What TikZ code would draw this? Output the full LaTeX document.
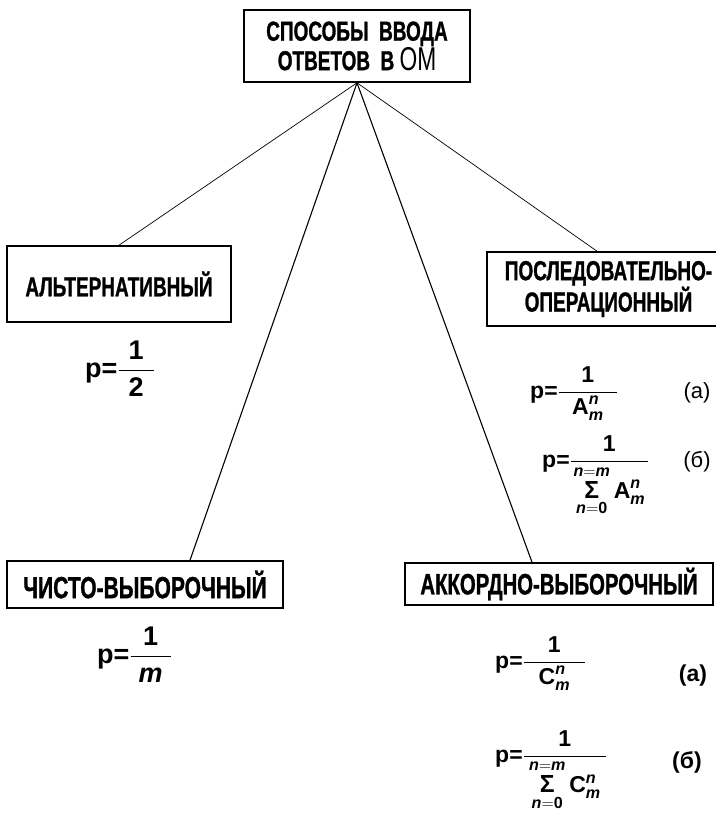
\RequirePackage{fix-cm}
\documentclass[tikz,border=0pt]{standalone}
\usepackage{amsmath}
\usepackage{graphicx}
\usepackage{fontspec}
\setmainfont{Liberation Sans}
\newfontfamily\lblfont[FakeStretch=0.69, BoldFeatures={FakeBold=1}]{Liberation Sans}
\usetikzlibrary{calc}
\newcommand\fb[1]{\textbf{#1}}
\newcommand\fv[1]{\textbf{\textit{#1}}}
\newcommand\bigsig{\mathop{\mbox{\resizebox{!}{17pt}{\bfseries Σ}}}\limits}
\begin{document}
\begin{tikzpicture}[x=1pt,y=-1pt,
  box/.style={draw, line width=1.6pt, inner sep=0pt, align=center},
  conn/.style={line width=1.1pt},
  thinconn/.style={line width=0.7pt},
  formula/.style={anchor=base west, inner sep=0pt},
  tag/.style={inner sep=0pt, font=\fontsize{22}{24}\selectfont}
]
\useasboundingbox (0,0) rectangle (715,814);

% boxes
\node[box, minimum width=226pt, minimum height=72pt,
      font=\lblfont\bfseries\fontsize{27.5}{26}\selectfont] (top) at (357,46)
      {СПОСОБЫ\ \ ВВОДА\\ОТВЕТОВ\ \ В\ {\mdseries\fontsize{33}{26}\selectfont ОМ}};
\node[box, minimum width=224pt, minimum height=76pt,
      font=\lblfont\bfseries\fontsize{27.5}{26}\selectfont] (alt) at (119,284)
      {АЛЬТЕРНАТИВНЫЙ};
\node[box, minimum width=243pt, minimum height=74pt,
      font=\lblfont\bfseries\fontsize{27.5}{30}\selectfont] (posl) at (608.5,289)
      {ПОСЛЕДОВАТЕЛЬНО-\\ОПЕРАЦИОННЫЙ};
\node[box, minimum width=276pt, minimum height=47pt,
      font=\lblfont\bfseries\fontsize{30.5}{30}\selectfont] (chisto) at (145,584.5)
      {ЧИСТО-ВЫБОРОЧНЫЙ};
\node[box, minimum width=308pt, minimum height=42pt,
      font=\lblfont\bfseries\fontsize{29.5}{30}\selectfont] (akk) at (559,584)
      {АККОРДНО-ВЫБОРОЧНЫЙ};

% connectors
\draw[thinconn] (top.south) -- (alt.north);
\draw[conn] (top.south) -- ([xshift=45pt]chisto.north);
\draw[conn] (top.south) -- ([xshift=-27pt]akk.north);
\draw[thinconn] (top.south) -- ([xshift=-11.5pt]posl.north);

% formulas
\node[formula, font=\fontsize{27}{30}\selectfont] (f1) at (85,377.5)
  {$\fb{p=}\dfrac{\fb{1}}{\makebox[35pt]{\fb{2}}}$};
\node[formula, font=\fontsize{27}{30}\selectfont] (f2) at (97,663.5)
  {$\fb{p=}\dfrac{\fb{1}}{\makebox[40pt]{\fv{m}}}$};

\node[formula, font=\fontsize{23}{26}\selectfont] (f3) at (530,398.5)
  {$\fb{p=}\dfrac{\fb{1}}{\makebox[58pt]{$\fb{A}^{\fv{n}}_{\fv{m}}$}}$};
\node[tag] (t3) at (697,393) {(а)};

\node[formula, font=\fontsize{23}{26}\selectfont] (f4) at (542,467.5)
  {$\fb{p=}\dfrac{\fb{1}}{\makebox[77pt]{$\bigsig_{\fv{n}=\fb{0}}^{\fv{n}=\fv{m}}\fb{A}^{\fv{n}}_{\fv{m}}$}}$};
\node[tag] (t4) at (697,462) {(б)};

\node[formula, font=\fontsize{23}{26}\selectfont] (f5) at (495,668.5)
  {$\fb{p=}\dfrac{\fb{1}}{\makebox[61pt]{$\fb{C}^{\fv{n}}_{\fv{m}}$}}$};
\node[tag, font=\bfseries\fontsize{23}{24}\selectfont] (t5) at (693,676) {(а)};

\node[formula, font=\fontsize{23}{26}\selectfont] (f6) at (495,762)
  {$\fb{p=}\dfrac{\fb{1}}{\makebox[82pt]{$\bigsig_{\fv{n}=\fb{0}}^{\fv{n}=\fv{m}}\fb{C}^{\fv{n}}_{\fv{m}}$}}$};
\node[tag, font=\bfseries\fontsize{23}{24}\selectfont] (t6) at (687,762) {(б)};
\end{tikzpicture}
\end{document}
